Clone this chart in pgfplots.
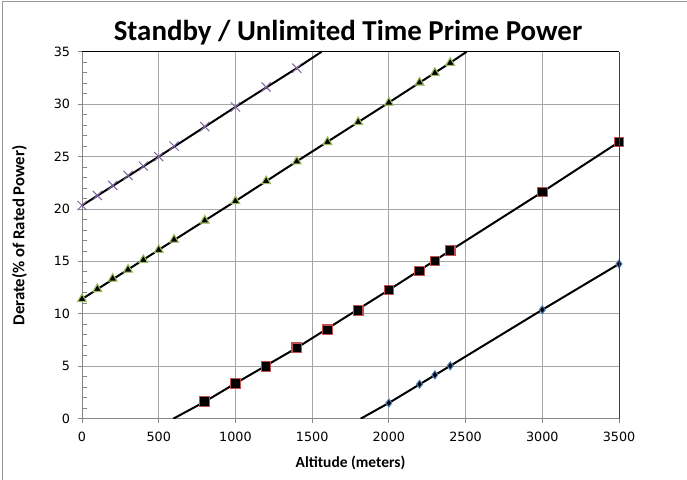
\documentclass[border=0pt]{standalone}
\usepackage{fontspec}
\setmainfont{Carlito}
\newfontfamily\dejavu{DejaVu Sans}
\usepackage{pgfplots}
\pgfplotsset{compat=1.18}
\definecolor{cpurple}{HTML}{8064A2}
\definecolor{cgreen}{HTML}{9BBB59}
\definecolor{cred}{HTML}{C0504D}
\definecolor{cblue}{HTML}{4F81BD}
\definecolor{gridc}{HTML}{A6A6A6}
\definecolor{axc}{HTML}{868686}
\begin{document}
\begin{tikzpicture}
\useasboundingbox (0,0) rectangle (687bp,480bp);
\draw[gray!80, line width=1bp] (2.5bp,-5bp) -- (2.5bp,478.5bp) -- (700bp,478.5bp);
\begin{axis}[
  at={(82bp,61.3bp)}, anchor=south west,
  scale only axis, width=537bp, height=367bp,
  xmin=0, xmax=3500, ymin=0, ymax=35,
  xtick distance=500, ytick distance=5,
  minor y tick num=4,
  axis lines*=left,
  axis line style={draw=axc, line width=0.9bp},
  grid=major,
  major grid style={draw=gridc, line width=0.8bp},
  tick align=outside,
  major tick length=4.5bp, minor tick length=4bp,
  tick style={draw=axc, line width=0.8bp},
  minor y tick style={xshift=4.5bp},
  /pgf/number format/assume math mode=true,
  /pgf/number format/set thousands separator={},
  tick label style={font=\dejavu\fontsize{12.8}{14}\selectfont},
  xticklabel style={yshift=-5bp},
  yticklabel style={xshift=-4bp},
  clip=true,
  after end axis/.code={
    \draw[black, line width=1bp] (rel axis cs:0,1) -- (rel axis cs:1,1);
    \draw[gray!50!black, line width=1bp] (rel axis cs:1,0) -- (rel axis cs:1,1);
  },
]
% trend lines
\addplot[black, line width=2bp] coordinates {(0,20.33)(500,24.99)(1000,29.73)(1400,33.43)(1562,35)};
\addplot[black, line width=2bp] coordinates {(0,11.41)(500,16.1)(1000,20.75)(1400,24.54)(2000,30.15)(2400,33.94)(2507,35)};
\addplot[black, line width=2bp] coordinates {(595,0)(800,1.62)(1000,3.37)(1400,6.76)(2000,12.28)(2400,16.03)(3000,21.62)(3500,26.39)};
\addplot[black, line width=2bp] coordinates {(1816,0)(2000,1.5)(2400,5.04)(3000,10.39)(3500,14.76)};
% markers
\addplot[only marks, mark=x, mark size=6.5bp, mark options={draw=cpurple, line width=1bp}] coordinates {
(0,20.33)(100,21.29)(200,22.25)(300,23.2)(400,24.09)(500,24.99)(600,26.0)(800,27.86)(1000,29.73)(1200,31.64)(1400,33.43)};
\addplot[only marks, mark=triangle*, mark size=5bp, mark options={fill=black, draw=cgreen, line width=1.1bp}] coordinates {
(0,11.41)(100,12.37)(200,13.36)(300,14.22)(400,15.14)(500,16.1)(600,17.08)(800,18.9)(1000,20.75)(1200,22.66)(1400,24.54)(1600,26.39)(1800,28.3)(2000,30.15)(2200,32.06)(2300,32.98)(2400,33.94)};
\addplot[only marks, mark=square*, mark size=4.8bp, mark options={fill=black, draw=cred, line width=1.1bp}] coordinates {
(800,1.62)(1000,3.37)(1200,5.0)(1400,6.76)(1600,8.48)(1800,10.33)(2000,12.28)(2200,14.09)(2300,15.04)(2400,16.03)(3000,21.62)(3500,26.39)};
\addplot[only marks, mark=diamond*, mark size=4bp, mark options={fill=black, draw=cblue, line width=1bp}] coordinates {
(2000,1.5)(2200,3.29)(2300,4.18)(2400,5.04)(3000,10.39)(3500,14.76)};
\end{axis}
\node[anchor=base, font=\bfseries\fontsize{29}{33}\selectfont] at (348bp,439.3bp) {Standby / Unlimited Time Prime Power};
\node[font=\bfseries\fontsize{15.5}{18}\selectfont] at (350.5bp,17bp) {Altitude (meters)};
\node[rotate=90, font=\bfseries\fontsize{16.8}{20}\selectfont] at (19.5bp,244.5bp) {Derate(\% of Rated Power)};
\end{tikzpicture}
\end{document}
